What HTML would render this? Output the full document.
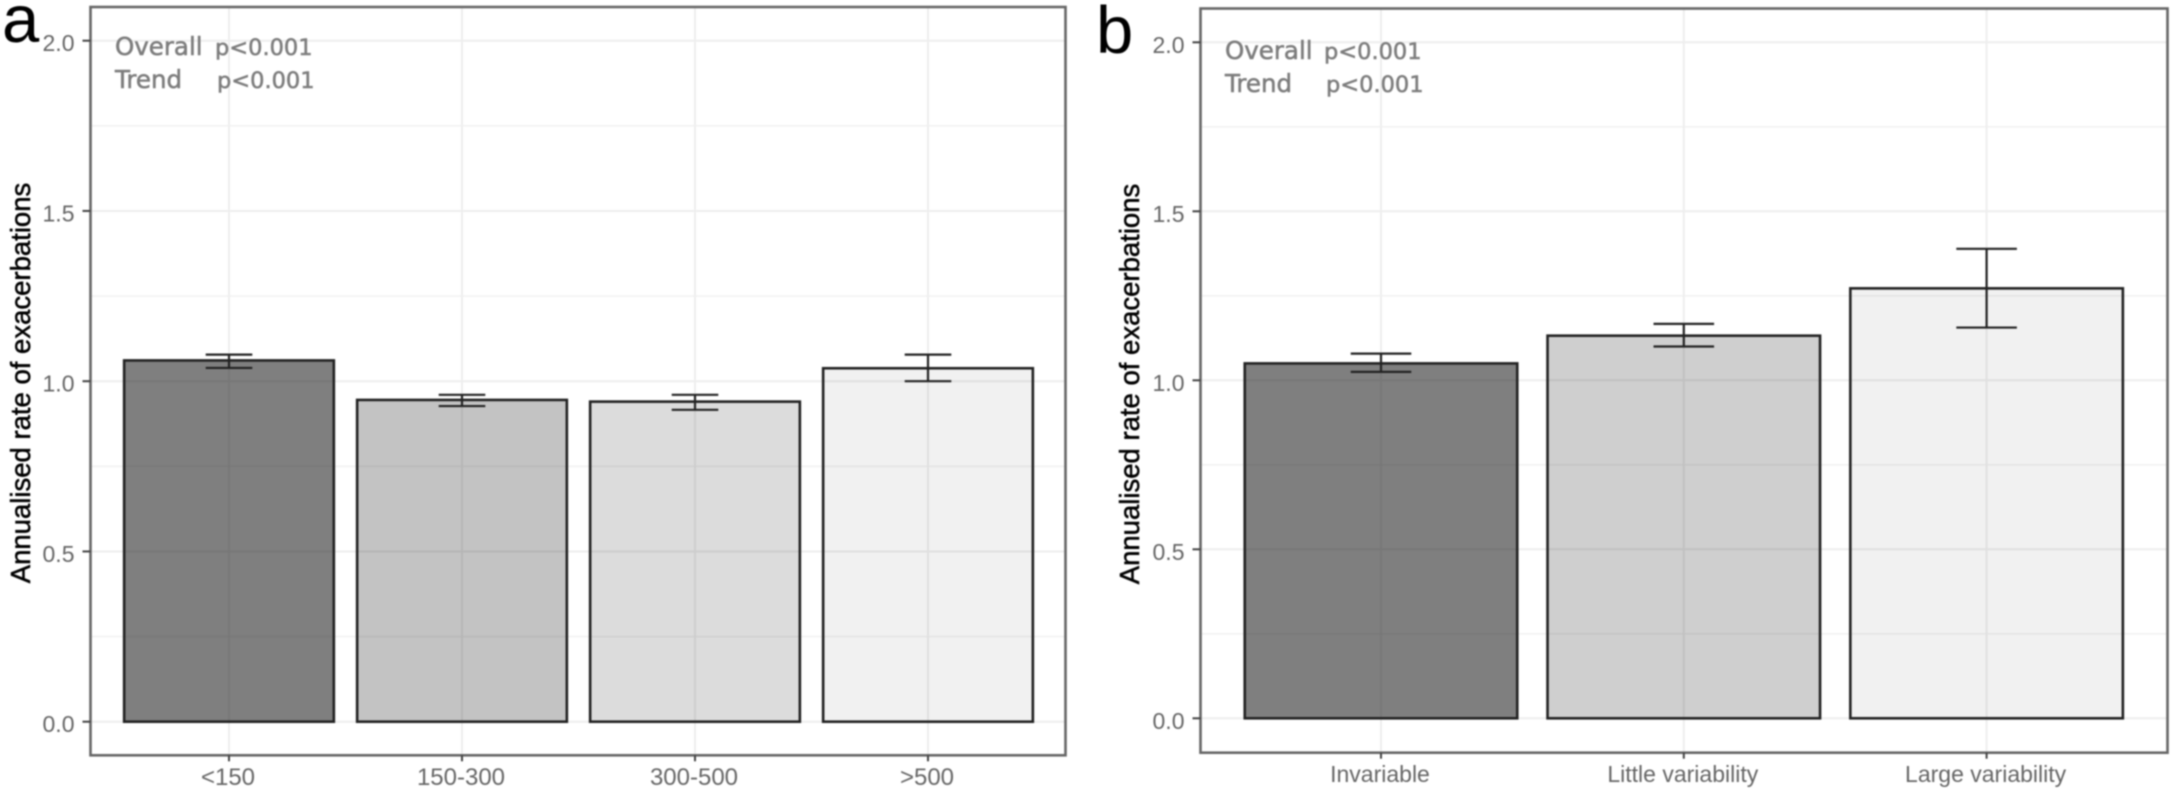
<!DOCTYPE html>
<html lang="en">
<head>
<meta charset="utf-8">
<title>Annualised rate of exacerbations</title>
<style>
html,body{margin:0;padding:0;background:#fff;width:2175px;height:793px;overflow:hidden}
svg{display:block;filter:blur(0.7px);font-family:"Liberation Sans",Arial,sans-serif}
.note{font-family:"DejaVu Sans",sans-serif;font-size:22.5px;fill:#7d7d7d;stroke:#7d7d7d;stroke-width:.55px}
.note-label{font-size:24.5px}
.title{font-size:27.5px;fill:#000;stroke:#000;stroke-width:.5px}
.letter{font-size:67px;fill:#000}
</style>
</head>
<body>
<svg id="fig" width="2175" height="793" viewBox="0 0 2175 793" xmlns="http://www.w3.org/2000/svg">
  <g id="panel-a"></g>
  <g id="panel-b"></g>

  <text class="letter" x="2" y="42">a</text>
  <text class="letter" x="1096" y="53">b</text>

  <text class="title" transform="translate(30,383) rotate(-90)" text-anchor="middle">Annualised rate of exacerbations</text>
  <text class="title" transform="translate(1139,384) rotate(-90)" text-anchor="middle">Annualised rate of exacerbations</text>

  <text class="note note-label" x="115" y="55">Overall</text>
  <text class="note" x="215" y="55">p&lt;0.001</text>
  <text class="note note-label" x="115" y="88">Trend</text>
  <text class="note" x="217" y="88">p&lt;0.001</text>

  <text class="note note-label" x="1225" y="59">Overall</text>
  <text class="note" x="1324" y="59">p&lt;0.001</text>
  <text class="note note-label" x="1225" y="92">Trend</text>
  <text class="note" x="1326" y="92">p&lt;0.001</text>
</svg>
<script>
// Chart data
const yTickValues = [0, 0.5, 1, 1.5, 2];
const yTickLabels = ["0.0", "0.5", "1.0", "1.5", "2.0"];
const yMinorValues = [0.25, 0.75, 1.25, 1.75];

const categoriesA = ["<150", "150-300", "300-500", ">500"];
const ratesA = [1.061, 0.945, 0.940, 1.038];
const lowerA = [1.039, 0.927, 0.916, 1.000];
const upperA = [1.078, 0.960, 0.960, 1.078];
const shadesA = [0.50, 0.235, 0.137, 0.055];

const categoriesB = ["Invariable", "Little variability", "Large variability"];
const ratesB = [1.050, 1.132, 1.272];
const lowerB = [1.025, 1.100, 1.156];
const upperB = [1.079, 1.167, 1.389];
const shadesB = [0.50, 0.19, 0.055];

const NS = "http://www.w3.org/2000/svg";

function mk(parent, tag, attrs, text) {
  const el = document.createElementNS(NS, tag);
  for (const k in attrs) el.setAttribute(k, attrs[k]);
  if (text !== undefined) el.textContent = text;
  parent.appendChild(el);
  return el;
}

function drawPanel(root, frame, categories, rates, lower, upper, shades) {
  const yScale = v => frame.y0 + (frame.y2 - frame.y0) * v / 2;
  const xScale = i => frame.cx0 + frame.step * i;
  const barW = frame.step * 0.9;
  const capW = frame.step * 0.2;

  // background
  const bg = mk(root, "rect", {x: frame.left, y: frame.top, width: frame.right - frame.left, height: frame.bottom - frame.top, fill: "#fff"});
  
  

  // minor horizontal grid
  yMinorValues.forEach(v => {
    const g = mk(root, "line", {x1: frame.left, x2: frame.right, y1: yScale(v), y2: yScale(v), stroke: "#f2f2f2", "stroke-width": 1.6});
    
    
  });

  // major horizontal grid
  yTickValues.forEach(v => {
    const g = mk(root, "line", {x1: frame.left, x2: frame.right, y1: yScale(v), y2: yScale(v), stroke: "#eeeeee", "stroke-width": 2});
    
    
  });

  // vertical grid
  categories.forEach((c, i) => {
    const g = mk(root, "line", {x1: xScale(i), x2: xScale(i), y1: frame.top, y2: frame.bottom, stroke: "#eeeeee", "stroke-width": 2});
    
    
  });

  // bars
  categories.forEach((c, i) => {
    const top = yScale(rates[i]);
    const base = yScale(0);
    const b = mk(root, "rect", {
      x: xScale(i) - barW / 2, y: top, width: barW, height: base - top,
      fill: "#000", "fill-opacity": shades[i], stroke: "#222", "stroke-width": 2.6
    });
    
    
  });

  // error bars
  categories.forEach((c, i) => {
    const cx = xScale(i);
    const stem = mk(root, "line", {x1: cx, x2: cx, y1: yScale(upper[i]), y2: yScale(lower[i]), stroke: "#222", "stroke-width": 2.2});
    
    
    const capTop = mk(root, "line", {x1: cx - capW / 2, x2: cx + capW / 2, y1: yScale(upper[i]), y2: yScale(upper[i]), stroke: "#222", "stroke-width": 2.2});
    
    
    const capLow = mk(root, "line", {x1: cx - capW / 2, x2: cx + capW / 2, y1: yScale(lower[i]), y2: yScale(lower[i]), stroke: "#222", "stroke-width": 2.2});
    
    
  });

  // frame
  const border = mk(root, "rect", {x: frame.left, y: frame.top, width: frame.right - frame.left, height: frame.bottom - frame.top, fill: "none", stroke: "#666", "stroke-width": 2.6});
  
  

  // y axis ticks and labels
  yTickValues.forEach((v, i) => {
    const t = mk(root, "line", {x1: frame.left - 8, x2: frame.left, y1: yScale(v), y2: yScale(v), stroke: "#444", "stroke-width": 2});
    
    
    const l = mk(root, "text", {x: frame.left - 16, y: yScale(v) + 10.5, "text-anchor": "end", "font-size": 23, fill: "#666"}, yTickLabels[i]);
    
    
  });

  // x axis ticks and labels
  categories.forEach((c, i) => {
    const t = mk(root, "line", {x1: xScale(i), x2: xScale(i), y1: frame.bottom, y2: frame.bottom + 6, stroke: "#444", "stroke-width": 2});
    
    
    const l = mk(root, "text", {x: xScale(i) - 1, y: frame.bottom + 29.5, "text-anchor": "middle", "font-size": frame.xFont, fill: "#666"}, c);
    
    
  });
}

drawPanel(document.getElementById("panel-a"),
  {left: 90.5, right: 1065.5, top: 7, bottom: 755.3, y0: 721.7, y2: 40.7, cx0: 229, step: 233, xFont: 24},
  categoriesA, ratesA, lowerA, upperA, shadesA);

drawPanel(document.getElementById("panel-b"),
  {left: 1200.5, right: 2167.5, top: 8.5, bottom: 752.7, y0: 718.3, y2: 42.3, cx0: 1381, step: 302.8, xFont: 23},
  categoriesB, ratesB, lowerB, upperB, shadesB);
</script>
</body>
</html>
